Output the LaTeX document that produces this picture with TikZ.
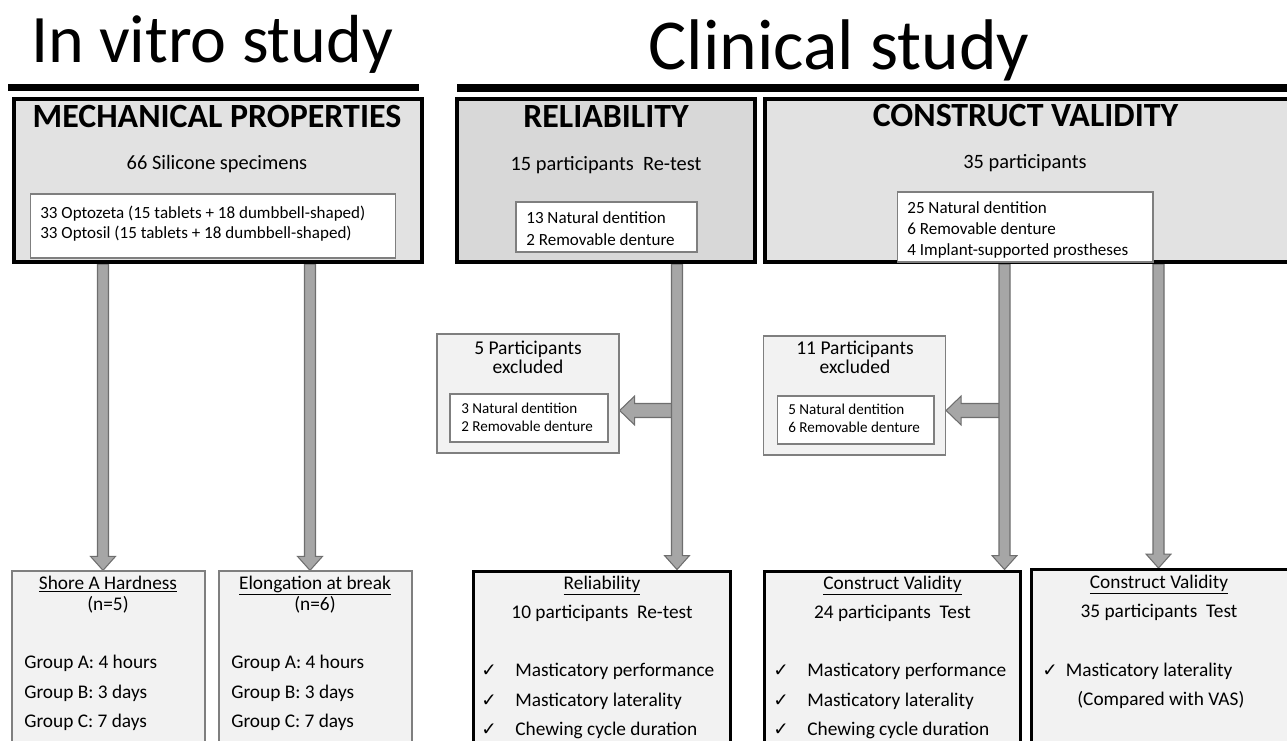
\documentclass[tikz,border=0pt]{standalone}
\usepackage{fontspec}
\setmainfont{Carlito}
\newfontfamily\checkfont{DejaVu Sans}
\usetikzlibrary{calc,backgrounds}

\definecolor{mechfill}{HTML}{E2E2E2}
\definecolor{relfill}{HTML}{D8D8D8}
\definecolor{cvfill}{HTML}{E2E2E2}
\definecolor{lightfill}{HTML}{F2F2F2}
\definecolor{edgegray}{HTML}{7F7F7F}
\definecolor{arrowfill}{HTML}{A6A6A6}
\definecolor{arrowedge}{HTML}{6E6E6E}

\newcommand{\titlesize}{\fontsize{38.7pt}{46pt}\selectfont}
\newcommand{\bigtitlesize}{\fontsize{40.8pt}{48pt}\selectfont}
\newcommand{\headsize}{\fontsize{19.3pt}{23pt}\selectfont\bfseries}
\newcommand{\subsize}{\fontsize{11.6pt}{14pt}\selectfont}
\newcommand{\exhdsize}{\fontsize{11.1pt}{13pt}\selectfont}
\newcommand{\listsize}{\fontsize{9.7pt}{12pt}\selectfont}
\newcommand{\exsize}{\fontsize{8.6pt}{10pt}\selectfont}
\newcommand{\botsize}{\fontsize{11pt}{13pt}\selectfont}
\newcommand{\tick}{{\checkfont\fontsize{10.5pt}{12pt}\selectfont ✓}}

% block arrows: from start #1 to tip #2
\newcommand{\vblock}[2]{%
  \draw[blockarrow] ($(#1)+(-5.5,0)$) -- ($(#2)+(-5.5,-14)$) -- ($(#2)+(-12.5,-14)$)
    -- (#2) -- ($(#2)+(12.5,-14)$) -- ($(#2)+(5.5,-14)$) -- ($(#1)+(5.5,0)$) -- cycle;}
\newcommand{\hblock}[2]{%
  \draw[blockarrow] ($(#1)+(0,-7)$) -- ($(#2)+(15,-7)$) -- ($(#2)+(15,-14.5)$)
    -- (#2) -- ($(#2)+(15,14.5)$) -- ($(#2)+(15,7)$) -- ($(#1)+(0,7)$) -- cycle;}

\tikzset{
  headbox/.style={draw=black, line width=2.3pt, inner sep=0pt},
  thinbox/.style={draw=edgegray, line width=0.6pt, fill=white, inner sep=0pt},
  greybox/.style={draw=edgegray, line width=0.75pt, fill=lightfill, inner sep=0pt},
  resultbox/.style={draw=black, line width=1.7pt, fill=lightfill, inner sep=0pt},
  txt/.style={inner sep=0pt, anchor=base},
  blockarrow/.style={draw=arrowedge, fill=arrowfill, line width=0.6pt},
}

\begin{document}
\begin{tikzpicture}[x=0.02cm, y=-0.02cm]
  \useasboundingbox (0,0) rectangle (1287,740);
  \clip (0,0) rectangle (1287,740);

  % titles
  \node[txt, font=\titlesize] (vitro) at (212,63) {In vitro study};
  \node[txt, font=\bigtitlesize] (clinic) at (839,70) {Clinical study};
  \fill (8,84) rectangle (419,91);
  \fill (457,84) rectangle (1287,92);

  % top boxes
  \node[headbox, fill=mechfill, minimum width=8.16cm, minimum height=3.26cm] (mech) at (218,180.5) {};
  \node[headbox, fill=relfill, minimum width=5.96cm, minimum height=3.26cm] (relhead) at (606,180.5) {};
  \node[headbox, fill=cvfill, minimum width=10.54cm, minimum height=3.26cm] (cvhead) at (1028.5,180.5) {};

  \node[txt, font=\headsize] (mechtitle) at (217,128) {MECHANICAL PROPERTIES};
  \node[txt, font=\subsize] (mechsub) at (217,169) {66 Silicone specimens};
  \node[thinbox, minimum width=7.32cm, minimum height=1.28cm] (mechlist) at (213,226) {};
  \foreach \t [count=\i] in {33 Optozeta (15 tablets + 18 dumbbell-shaped), 33 Optosil (15 tablets + 18 dumbbell-shaped)}
    \node[txt, anchor=base west, font=\listsize] (mechl\i) at (40,198+20*\i) {\t};

  \node[txt, font=\headsize] (reltitle) at (606,128) {RELIABILITY};
  \node[txt, font=\subsize] (relsub) at (606,170) {15 participants\ \ Re-test};
  \node[thinbox, minimum width=3.62cm, minimum height=1cm] (rellist) at (606.5,227) {};
  \foreach \t [count=\i] in {13 Natural dentition, 2 Removable denture}
    \node[txt, anchor=base west, font=\listsize] (rell\i) at (526,201+22*\i) {\t};

  \node[txt, font=\headsize] (cvtitle) at (1025.5,127) {CONSTRUCT VALIDITY};
  \node[txt, font=\subsize] (cvsub) at (1025,168) {35 participants};
  \node[thinbox, minimum width=5.12cm, minimum height=1.4cm] (cvlist) at (1025,227) {};
  \foreach \t [count=\i] in {25 Natural dentition, 6 Removable denture, 4 Implant-supported prostheses}
    \node[txt, anchor=base west, font=\listsize] (cvl\i) at (907,192+21*\i) {\t};

  % excluded participants
  \node[greybox, minimum width=3.64cm, minimum height=2.38cm] (excla) at (528,393.5) {};
  \foreach \t [count=\i] in {5 Participants, excluded}
    \node[txt, font=\exhdsize] (exa\i) at (528,335+19*\i) {\t};
  \node[thinbox, minimum width=3.16cm, minimum height=0.96cm] (exalist) at (529,418) {};
  \foreach \t [count=\i] in {3 Natural dentition, 2 Removable denture}
    \node[txt, anchor=base west, font=\exsize] (exal\i) at (461,395+18*\i) {\t};

  \node[greybox, minimum width=3.64cm, minimum height=2.38cm] (exclb) at (854.5,395.5) {};
  \foreach \t [count=\i] in {11 Participants, excluded}
    \node[txt, font=\exhdsize] (exb\i) at (855,335+19*\i) {\t};
  \node[thinbox, minimum width=3.14cm, minimum height=0.96cm] (exblist) at (855.5,420) {};
  \foreach \t [count=\i] in {5 Natural dentition, 6 Removable denture}
    \node[txt, anchor=base west, font=\exsize] (exbl\i) at (788,396+18*\i) {\t};

  % bottom boxes, in vitro
  \node[greybox, minimum width=3.86cm, minimum height=3.78cm] (shore) at (108.5,665.5) {};
  \node[greybox, minimum width=3.86cm, minimum height=3.78cm] (elong) at (315.5,665.5) {};
  \node[txt, font=\botsize] (shorehd) at (108,589) {\underline{Shore A Hardness}};
  \node[txt, font=\botsize] (shoren) at (108,610) {(n=5)};
  \node[txt, font=\botsize] (elonghd) at (315,589) {\underline{Elongation at break}};
  \node[txt, font=\botsize] (elongn) at (315,610) {(n=6)};
  \foreach \bx/\xx in {shore/24, elong/231}
    \foreach \g/\d [count=\i] in {A/4 hours, B/3 days, C/7 days}
      \node[txt, anchor=base west, font=\botsize] (\bx g\i) at (\xx,639+29.5*\i) {Group \g: \d};

  % bottom boxes, clinical
  \node[resultbox, minimum width=5.14cm, minimum height=3.8cm] (relbot) at (602,666) {};
  \node[resultbox, minimum width=5.12cm, minimum height=3.8cm] (cvbota) at (892.5,666) {};
  \node[resultbox, minimum width=5.37cm, minimum height=3.8cm] (cvbotb) at (1165.75,664.5) {};
  \node[txt, font=\botsize] (relbothd) at (602,589) {\underline{Reliability}};
  \node[txt, font=\botsize] (relbotn) at (602,618) {10 participants\ \ Re-test};
  \node[txt, font=\botsize] (cvbotahd) at (892.5,589) {\underline{Construct Validity}};
  \node[txt, font=\botsize] (cvbotan) at (892.5,618) {24 participants\ \ Test};
  \node[txt, font=\botsize] (cvbotbhd) at (1159,588) {\underline{Construct Validity}};
  \node[txt, font=\botsize] (cvbotbn) at (1159,617) {35 participants\ \ Test};
  \foreach \bx/\xx in {relbot/481, cvbota/773}
    \foreach \t [count=\i] in {Masticatory performance, Masticatory laterality, Chewing cycle duration}{
      \node[txt, anchor=base west] (\bx c\i) at (\xx,647+29.5*\i) {\tick};
      \node[txt, anchor=base west, font=\botsize] (\bx t\i) at (\xx+34,647+29.5*\i) {\t};
    }
  \node[txt, anchor=base west] (cvbotbc) at (1042,676) {\tick};
  \node[txt, anchor=base west, font=\botsize] (cvbotbt) at (1065.5,676) {Masticatory laterality};
  \node[txt, anchor=base west, font=\botsize] (cvbotbv) at (1077,705) {(Compared with VAS)};

  % arrows
  \coordinate (mxa) at (103,0);
  \coordinate (mxb) at (310,0);
  \coordinate (rx) at (677,0);
  \coordinate (cxa) at (1004.5,0);
  \coordinate (cxb) at (1158.5,0);
  \coordinate (ry) at (0,410.5);
  \begin{scope}[on background layer]
    \hblock{rx |- ry}{excla.east |- ry}
    \hblock{cxa |- ry}{exclb.east |- ry}
    \foreach \hd/\bt/\ax in {mech/shore/mxa, mech/elong/mxb, relhead/relbot/rx, cvhead/cvbota/cxa, cvhead/cvbotb/cxb}{
      \vblock{\hd.south -| \ax}{\bt.north -| \ax}
    }
  \end{scope}
\end{tikzpicture}
\end{document}
